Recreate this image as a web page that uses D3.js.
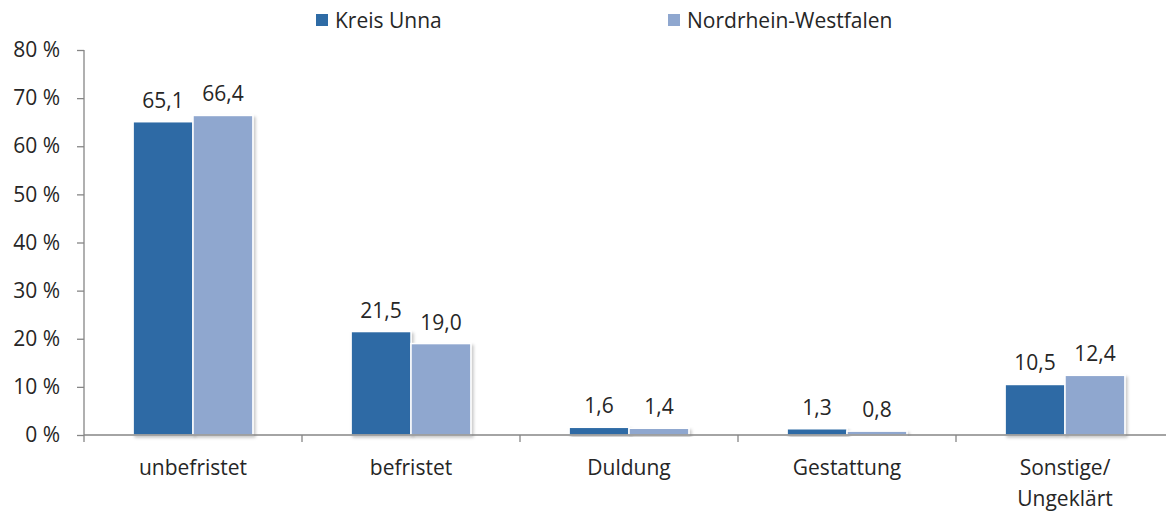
<!DOCTYPE html>
<html><head><meta charset="utf-8">
<script src="https://cdn.jsdelivr.net/npm/d3@7"></script>
<style>
body{margin:0;background:#fff;}
text{font-family:"Open Sans",sans-serif;fill:#262626;}
</style></head>
<body>
<svg id="c" width="1166" height="513"></svg>
<script>
const categories = ["unbefristet","befristet","Duldung","Gestattung","Sonstige/\nUngeklärt"];
const seriesNames = ["Kreis Unna","Nordrhein-Westfalen"];
const kreisUnna = [65.1,21.5,1.6,1.3,10.5];
const nrw = [66.4,19.0,1.4,0.8,12.4];
const yTicks = [0,10,20,30,40,50,60,70,80];
const colors = ["#2e6ba5","#8fa7cf"];

(function(){
const svg = d3.select("#c");
const mLeft = 84, mBottom = 435, mTop = 50, mRight = 1174;
const fs = 21;

const defs = svg.append("defs");
const f = defs.append("filter").attr("id","sh").attr("x","-10%").attr("y","-10%").attr("width","130%").attr("height","130%");
f.append("feDropShadow").attr("dx",2).attr("dy",2).attr("stdDeviation",1.5).attr("flood-color","#000").attr("flood-opacity",0.22);

const x = d3.scaleBand().domain(categories).range([mLeft,mRight]).paddingInner(0).paddingOuter(0);
const x1 = d3.scaleBand().domain(seriesNames).range([0,x.bandwidth()]).paddingInner(0.0).paddingOuter(0.82);
const y = d3.scaleLinear().domain([0,80]).range([mBottom,mTop]);

// y axis
const yAxis = svg.append("g").attr("transform",`translate(${mLeft},0)`)
  .call(d3.axisLeft(y).tickValues(yTicks).tickSize(7).tickPadding(17).tickFormat(d=>d+" %"));
yAxis.selectAll("path,line").attr("stroke","#868686").attr("stroke-width",1.3);
yAxis.select(".domain").attr("d",`M0,${mTop}V${mBottom}`);
yAxis.selectAll("text").attr("font-size",fs).attr("fill","#262626").style("font-family","'Open Sans',sans-serif");

// bars
const data = categories.map((c,i)=>({c, vals:[kreisUnna[i],nrw[i]]}));
const g = svg.append("g");
const groups = g.selectAll("g").data(data).join("g").attr("transform",d=>`translate(${x(d.c)},0)`);
groups.selectAll("rect").data(d=>d.vals.map((v,j)=>({v,s:seriesNames[j],j})))
  .join("rect")
  .attr("x",d=>x1(d.s)).attr("width",x1.bandwidth())
  .attr("y",d=>y(d.v)).attr("height",d=>mBottom-y(d.v))
  .attr("fill",d=>colors[d.j]).attr("stroke","#fff").attr("stroke-width",1.5)
  .attr("filter","url(#sh)");
groups.selectAll("text.v").data(d=>d.vals.map((v,j)=>({v,s:seriesNames[j],j})))
  .join("text").attr("class","v")
  .attr("x",d=>x1(d.s)+x1.bandwidth()/2).attr("y",d=>y(d.v)-14)
  .attr("text-anchor","middle").attr("font-size",fs)
  .text(d=>d3.format(".1f")(d.v).replace(".",","));

// x axis
const xAxis = svg.append("g").attr("transform",`translate(0,${mBottom})`);
xAxis.append("line").attr("x1",mLeft).attr("x2",mRight).attr("stroke","#868686").attr("stroke-width",1.3);
const bounds = categories.map(c=>x(c)).concat([x(categories[categories.length-1])+x.bandwidth()]);
xAxis.selectAll("line.t").data(bounds).join("line").attr("class","t")
  .attr("x1",d=>d).attr("x2",d=>d).attr("y1",0).attr("y2",7).attr("stroke","#868686").attr("stroke-width",1.3);
xAxis.selectAll("text").data(categories).join("text")
  .attr("x",d=>x(d)+x.bandwidth()/2).attr("y",40)
  .attr("text-anchor","middle").attr("font-size",fs)
  .each(function(d){
    const lines = d.split("\n");
    d3.select(this).selectAll("tspan").data(lines).join("tspan")
      .attr("x",x(d)+x.bandwidth()/2).attr("dy",(l,i)=>i===0?0:31).text(l=>l);
  });

// legend
const legX = [316,668];
const leg = svg.append("g");
seriesNames.forEach((s,i)=>{
  leg.append("rect").attr("x",legX[i]).attr("y",14).attr("width",12).attr("height",12).attr("fill",colors[i]);
  leg.append("text").attr("x",legX[i]+19).attr("y",28).attr("font-size",fs).text(s);
});
})();
</script>
</body></html>
